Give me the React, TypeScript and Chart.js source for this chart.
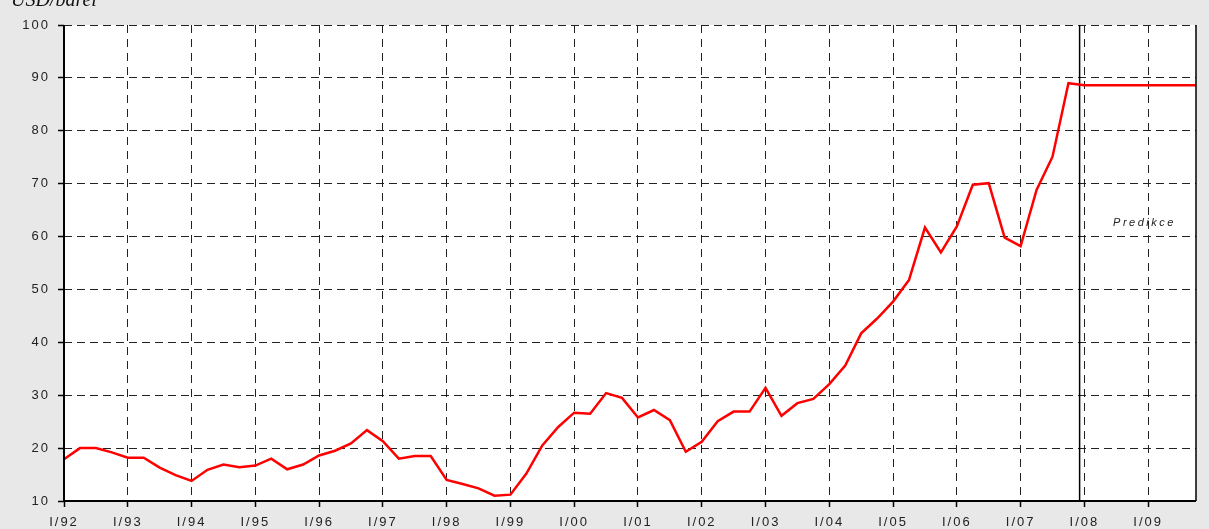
import React, { useEffect, useRef } from "react";
import { Chart, registerables } from "chart.js";

Chart.register(...registerables);

// ---- data ----
const years = ["92", "93", "94", "95", "96", "97", "98", "99", "00", "01", "02", "03", "04", "05", "06", "07", "08", "09"];
const quarterNames = ["I", "II", "III", "IV"];
const quarterLabels = years.flatMap((y) => quarterNames.map((q) => `${q}/${y}`));

const prices = [
  17.9, 20.0, 20.0, 19.2, // 1992
  18.2, 18.2, 16.3, 14.9, // 1993
  13.8, 15.9, 16.9, 16.4, // 1994
  16.7, 18.0, 16.0, 16.9, // 1995
  18.6, 19.5, 20.9, 23.4, // 1996
  21.3, 18.0, 18.5, 18.5, // 1997
  14.0, 13.2, 12.4, 11.0, // 1998
  11.2, 15.2, 20.5, 24.0, // 1999
  26.7, 26.5, 30.4, 29.5, // 2000
  25.8, 27.2, 25.3, 19.3, // 2001
  21.2, 25.1, 26.9, 26.9, // 2002
  31.4, 26.1, 28.5, 29.3, // 2003
  32.1, 35.6, 41.7, 44.5, // 2004
  47.7, 51.8, 61.7, 57.0, // 2005
  61.9, 69.8, 70.1, 59.8, // 2006
  58.2, 68.8, 75.1, 89.0, // 2007
  88.6, 88.6, 88.6, 88.6, // 2008
  88.6, 88.6, 88.6, 88.6, // 2009
];

const yMin = 10;
const yMax = 100;
const yStep = 10;

const unitTitle = "USD/barel";
const predictionLabel = "Predikce";
const predictionStart = 63.7; // position (in quarters) of the forecast divider
const predictionLabelAt = { x: 65.8, y: 62.6 };

const decorPlugin = {
  id: "decor",
  beforeDraw(chart: any) {
    const { ctx, chartArea: a, width, height } = chart;
    ctx.save();
    ctx.fillStyle = "#e8e8e8";
    ctx.fillRect(0, 0, width, height);
    ctx.fillStyle = "#ffffff";
    ctx.fillRect(a.left, a.top, a.right - a.left, a.bottom - a.top);
    ctx.font = "italic 20px 'Liberation Serif'";
    ctx.fillStyle = "#111";
    ctx.textBaseline = "alphabetic";
    ctx.textAlign = "left";
    ctx.fillText(unitTitle, 11, 6);
    ctx.restore();
    ctx.letterSpacing = "2px";
  },
  beforeDatasetsDraw(chart: any) {
    const { ctx, chartArea: a, scales } = chart;
    ctx.letterSpacing = "0px";
    const x = scales.x.getPixelForValue(predictionStart);
    ctx.save();
    ctx.strokeStyle = "#000";
    ctx.lineWidth = 1.5;
    ctx.setLineDash([]);
    ctx.beginPath();
    ctx.moveTo(x, a.top);
    ctx.lineTo(x, a.bottom);
    ctx.stroke();
    ctx.font = "italic 11px 'Liberation Sans'";
    ctx.letterSpacing = "2.5px";
    ctx.fillStyle = "#222";
    ctx.textBaseline = "middle";
    ctx.textAlign = "left";
    ctx.fillText(
      predictionLabel,
      scales.x.getPixelForValue(predictionLabelAt.x),
      scales.y.getPixelForValue(predictionLabelAt.y)
    );
    ctx.restore();
    ctx.letterSpacing = "0px";
  },
  afterDatasetsDraw(chart: any) {
    const { ctx, chartArea: a } = chart;
    ctx.save();
    ctx.setLineDash([]);
    ctx.strokeStyle = "#000";
    ctx.lineWidth = 2;
    ctx.beginPath();
    ctx.moveTo(a.left, a.top);
    ctx.lineTo(a.left, a.bottom);
    ctx.lineTo(a.right, a.bottom);
    ctx.stroke();
    ctx.lineWidth = 1.5;
    ctx.beginPath();
    ctx.moveTo(a.right, a.top);
    ctx.lineTo(a.right, a.bottom);
    ctx.stroke();
    ctx.restore();
  },
};

export default function App() {
  const ref = useRef<HTMLCanvasElement | null>(null);

  useEffect(() => {
    if (!ref.current) return;
    const tickFont = { family: "'Liberation Sans', Arial, sans-serif", size: 13 };
    const chart = new Chart(ref.current, {
      type: "line",
      data: {
        labels: quarterLabels,
        datasets: [
          {
            data: prices,
            borderColor: "#ff0000",
            borderWidth: 2.5,
            pointRadius: 0,
            pointHoverRadius: 0,
            tension: 0,
            fill: false,
          },
        ],
      },
      options: {
        responsive: false,
        animation: false,
        events: [],
        layout: { padding: { top: 25, right: 13, left: 0, bottom: 0 } },
        plugins: {
          legend: { display: false },
          tooltip: { enabled: false },
          title: { display: false },
        },
        scales: {
          x: {
            type: "category",
            offset: false,
            afterBuildTicks: (scale: any) => {
              scale.ticks = scale.ticks.filter((t: any) => t.value % 4 === 0);
            },
            afterFit: (scale: any) => {
              scale.height = 28;
            },
            grid: {
              color: "#222",
              lineWidth: 1,
              tickLength: 6,
              tickColor: "#000",
              tickWidth: 1.5,
            },
            border: { display: false, dash: [8, 6] },
            ticks: {
              autoSkip: false,
              maxRotation: 0,
              minRotation: 0,
              font: tickFont,
              color: "#222",
              padding: 8,
            },
          },
          y: {
            min: yMin,
            max: yMax,
            afterFit: (scale: any) => {
              scale.width = 64;
            },
            grid: {
              color: "#222",
              lineWidth: 1,
              tickLength: 6,
              tickColor: "#000",
              tickWidth: 1.5,
            },
            border: { display: false, dash: [8, 5] },
            ticks: {
              stepSize: yStep,
              font: tickFont,
              color: "#222",
              padding: 8,
            },
          },
        },
      },
      plugins: [decorPlugin],
    });
    return () => chart.destroy();
  }, []);

  return (
    <div style={{ position: "absolute", left: 0, top: 0, width: 1209, height: 529 }}>
      <canvas ref={ref} width={1209} height={529} style={{ display: "block" }} />
    </div>
  );
}
